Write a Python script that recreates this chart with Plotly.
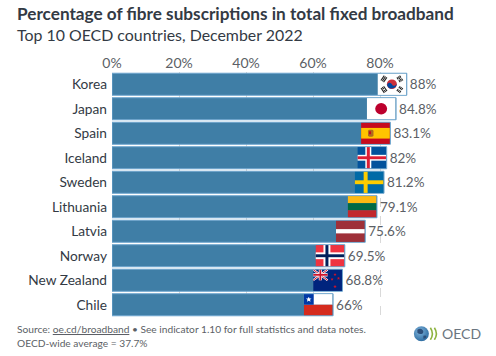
import base64
import plotly.graph_objects as go

countries = ["Korea", "Japan", "Spain", "Iceland", "Sweden", "Lithuania", "Latvia", "Norway", "New Zealand", "Chile"]
values = [88, 84.8, 83.1, 82, 81.2, 79.1, 75.6, 69.5, 68.8, 66]
x_ticks = [0, 20, 40, 60, 80]
x_tick_labels = ["0%", "20%", "40%", "60%", "80%"]
title_text = "Percentage of fibre subscriptions in total fixed broadband"
subtitle_text = "Top 10 OECD countries, December 2022"
source_line = 'Source: <u>oe.cd/broadband</u> • See indicator 1.10 for full statistics and data notes.'
average_line = "OECD-wide average = 37.7%"

FONT = "Lato, 'Noto Sans', sans-serif"
BAR = "#3f7ea6"
EDGE = "#6ea6cf"
TEXT = "#333a44"
GREY = "#5c5f66"


def tri(x, y, pat, rot):
    out = f'<g transform="translate({x} {y}) rotate({rot})">'
    for i, n in enumerate(pat):
        yy = -2.2 + i * 1.6
        if n:
            out += f'<rect x="-3" y="{yy}" width="6" height="1.1" fill="#222"/>'
        else:
            out += f'<rect x="-3" y="{yy}" width="2.5" height="1.1" fill="#222"/><rect x="0.5" y="{yy}" width="2.5" height="1.1" fill="#222"/>'
    return out + "</g>"


star = '<polygon points="0,-1 .3,-.3 1,-.3 .45,.15 .65,.85 0,.45 -.65,.85 -.45,.15 -1,-.3 -.3,-.3" fill="{f}" transform="translate({x} {y}) scale({s})"/>'

flag_svgs = {
    "Korea": '<rect width="29" height="22" fill="#fff"/>'
    '<circle cx="14.5" cy="11" r="5" fill="#cd2e3a"/>'
    '<path d="M9.7 12.2a5 5 0 0 0 9.6 -2.4a2.5 2.5 0 0 1 -4.8 1.2a2.5 2.5 0 0 0 -4.8 1.2z" fill="#0047a0"/>'
    + tri(6.5, 5.5, [1, 1, 1], -56) + tri(22.5, 16.5, [0, 0, 0], -56)
    + tri(22.5, 5.5, [0, 1, 0], 56) + tri(6.5, 16.5, [1, 0, 1], 56),
    "Japan": '<rect width="29" height="22" fill="#fff"/><circle cx="14.5" cy="11" r="6" fill="#bc002d"/>',
    "Spain": '<rect width="29" height="22" fill="#c60b1e"/><rect y="5.5" width="29" height="11" fill="#ffc400"/>'
    '<rect x="7" y="7.5" width="5.5" height="7" rx="1.5" fill="#ad6a1f"/><rect x="8" y="9" width="2" height="3" fill="#c60b1e"/>',
    "Iceland": '<rect width="29" height="22" fill="#02529c"/><rect x="8" width="6" height="22" fill="#fff"/><rect y="8" width="29" height="6" fill="#fff"/>'
    '<rect x="9.5" width="3" height="22" fill="#dc1e35"/><rect y="9.5" width="29" height="3" fill="#dc1e35"/>',
    "Sweden": '<rect width="29" height="22" fill="#006aa7"/><rect x="9" width="4" height="22" fill="#fecc00"/><rect y="9" width="29" height="4" fill="#fecc00"/>',
    "Lithuania": '<rect width="29" height="7.4" fill="#fdb913"/><rect y="7.3" width="29" height="7.4" fill="#006a44"/><rect y="14.6" width="29" height="7.4" fill="#c1272d"/>',
    "Latvia": '<rect width="29" height="22" fill="#9e3039"/><rect y="8.8" width="29" height="4.4" fill="#fff"/>',
    "Norway": '<rect width="29" height="22" fill="#ef3340"/><rect x="8" width="7" height="22" fill="#fff"/><rect y="7.5" width="29" height="7" fill="#fff"/>'
    '<rect x="10" width="3" height="22" fill="#00205b"/><rect y="9.5" width="29" height="3" fill="#00205b"/>',
    "New Zealand": '<rect width="29" height="22" fill="#00247d"/>'
    '<path d="M0 0L14.5 11M14.5 0L0 11" stroke="#fff" stroke-width="2.2"/><path d="M0 0L14.5 11M14.5 0L0 11" stroke="#cc142b" stroke-width="1"/>'
    '<path d="M7.25 0V11M0 5.5H14.5" stroke="#fff" stroke-width="3.2"/><path d="M7.25 0V11M0 5.5H14.5" stroke="#cc142b" stroke-width="1.8"/>'
    + star.format(f="#cc142b", x=22, y=5, s=1.6) + star.format(f="#cc142b", x=19, y=10, s=1.6)
    + star.format(f="#cc142b", x=25.5, y=9, s=1.6) + star.format(f="#cc142b", x=22, y=17.5, s=1.8),
    "Chile": '<rect width="29" height="11" fill="#fff"/><rect y="11" width="29" height="11" fill="#d52b1e"/><rect width="10" height="11" fill="#0039a6"/>'
    + star.format(f="#fff", x=5, y=5.5, s=2.8),
}


def uri(body, w=29, h=22):
    svg = f'<svg xmlns="http://www.w3.org/2000/svg" viewBox="0 0 {w} {h}" width="{w * 4}" height="{h * 4}" preserveAspectRatio="none">{body}</svg>'
    return "data:image/svg+xml;base64," + base64.b64encode(svg.encode()).decode()


L, T, W, H = 112, 71.7, 334.6, 245.5


def px(x):
    return (x - L) / W


def py(y):
    return 1 - (y - T) / H


images = [
    dict(source=uri(flag_svgs[c]), xref="x", yref="y", x=v - 0.15, y=i, sizex=8.6, sizey=0.87,
         xanchor="right", yanchor="middle", sizing="stretch", layer="above")
    for i, (c, v) in enumerate(zip(countries, values))
]

globe = ('<defs><radialGradient id="g" cx=".4" cy=".35" r=".8"><stop offset="0" stop-color="#7fb4dc"/><stop offset="1" stop-color="#1f5f96"/></radialGradient></defs>'
         '<circle cx="8" cy="8" r="7.5" fill="url(#g)"/>'
         '<path d="M4 4q3-2 5 0t0 4q-3 1-5-1zM10 10q3-1 3 1t-3 2z" fill="#2d4f7a"/>'
         '<path d="M17 2q4 6 0 12M21 2q4 6 0 12" fill="none" stroke="#8db33f" stroke-width="1.6"/>')
images.append(dict(source=uri(globe, 27, 16), xref="paper", yref="paper",
                   x=px(413), y=py(334), sizex=27 / W, sizey=16 / H,
                   xanchor="left", yanchor="middle", sizing="stretch", layer="above"))

fig = go.Figure(go.Bar(
    x=values, y=countries, orientation="h", width=0.9,
    marker=dict(color=BAR, line=dict(color=EDGE, width=1)),
    text=[f"{v:g}%" for v in values], textposition="outside", cliponaxis=False,
    textfont=dict(family=FONT, size=13.5, color=GREY),
))


def ann(text, x, y, size, color, **kw):
    return dict(text=text, xref="paper", yref="paper", x=px(x), y=py(y), xanchor="left", yanchor="middle",
                showarrow=False, font=dict(family=FONT, size=size, color=color), **kw)


annotations = [
    ann(f"<b>{title_text}</b>", 15, 13.5, 17.2, TEXT),
    ann(subtitle_text, 15, 34.5, 15.9, TEXT),
    ann(source_line, 15, 329, 10.2, GREY),
    ann(average_line, 15, 343, 10.2, GREY),
    ann("OECD", 440, 334, 14, "#6b7580"),
]

fig.update_layout(
    width=496, height=356, autosize=False,
    margin=dict(l=L, r=496 - L - W, t=T, b=356 - T - H, pad=0),
    paper_bgcolor="white", plot_bgcolor="white", showlegend=False,
    font=dict(family=FONT),
    bargap=0.1, images=images, annotations=annotations,
)
fig.update_xaxes(
    range=[0, 100], side="top", tickvals=x_ticks, ticktext=x_tick_labels, ticks="", showline=False,
    tickfont=dict(family=FONT, size=14, color=GREY),
    showgrid=True, gridcolor="#d9d9d9", griddash="dash", gridwidth=1, zeroline=False, layer="above traces",
)
fig.update_yaxes(
    type="category", autorange=False, range=[9.5, -0.5], ticks="", showline=False, showgrid=False,
    tickfont=dict(family=FONT, size=13.7, color=TEXT), ticklabelstandoff=4,
)
fig.write_html("out.html", config=dict(displayModeBar=False),
               post_script="document.body.style.margin='0';document.body.style.overflow='hidden';")
